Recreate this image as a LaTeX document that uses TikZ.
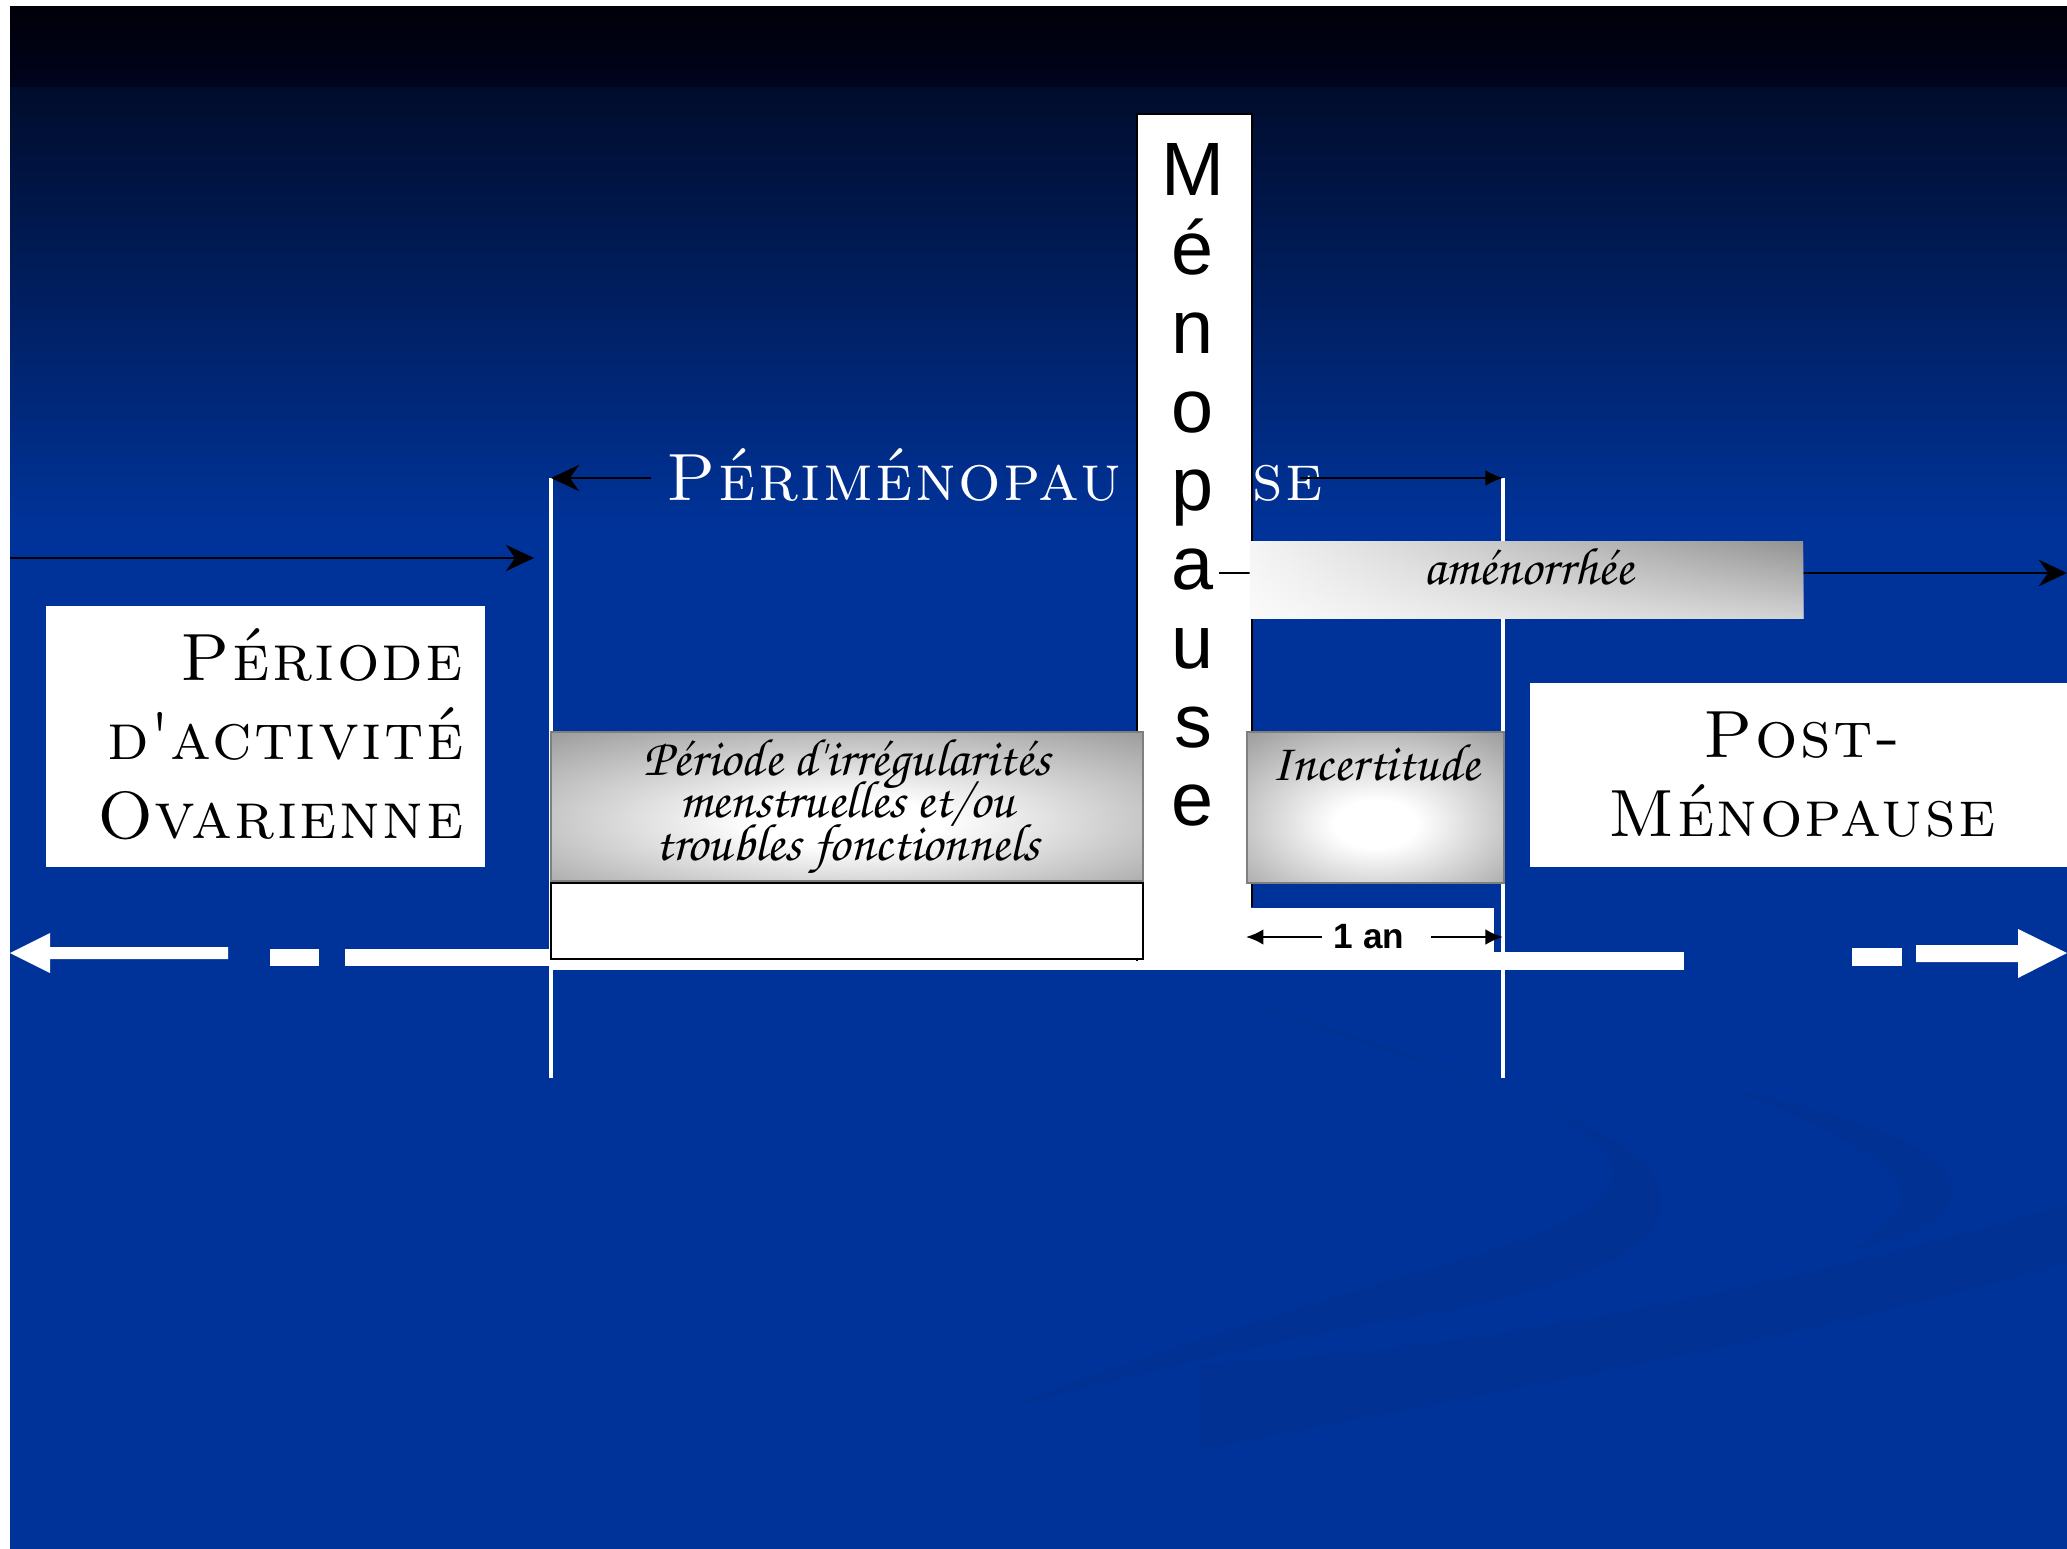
\documentclass[tikz,border=0pt]{standalone}
\usepackage{fontspec}
\newfontfamily\arialfont{Liberation Sans}
\newfontfamily\corsivafont{texgyrechorus-mediumitalic.otf}
\newfontfamily\copperfont{lmromancaps10-regular.otf}[LetterSpace=3.5]
\usetikzlibrary{arrows.meta, calc, positioning, fadings}
\definecolor{slideBlue}{HTML}{003399}
\definecolor{slideNight}{HTML}{000008}
\definecolor{slideNightLow}{HTML}{00041E}
\definecolor{slideDusk}{HTML}{000C2C}
\definecolor{boxGray}{HTML}{7F7F7F}
\pgfdeclareradialshading{bevel}{\pgfpoint{0bp}{-6bp}}{color(0bp)=(white); color(8bp)=(white); color(47bp)=(boxGray); color(100bp)=(boxGray)}
\tikzset{
  plainbox/.style={fill=white, inner sep=0pt},
  bevelbox/.style={shade, shading=bevel, draw=boxGray, line width=0.6pt, inner sep=0pt},
  capslabel/.style={font={\copperfont\fontsize{19}{22.5}\selectfont}, inner sep=0pt},
  scriptlabel/.style={font={\fontsize{15}{12}\selectfont\corsivafont\lineskiplimit=-\maxdimen}, inner sep=0pt},
  menoletter/.style={font={\arialfont\fontsize{21.5}{22.4}\selectfont}, inner sep=0pt},
  boundline/.style={white, line width=1.2pt},
  stealthline/.style={line width=0.7pt, -{Stealth[length=8pt, width=7.5pt]}},
  latexline/.style={line width=0.6pt, -{Latex[length=5pt, width=4.5pt]}},
  swoosh/.style={fill=black, opacity=0.04},
}

\begin{document}
\begin{tikzpicture}[x=0.01cm, y=-0.01cm]
  \useasboundingbox (0,0) rectangle (2067,1549);

  \fill[white] (0,0) rectangle (2067,1549);
  \shade[top color=slideNight, bottom color=slideNightLow] (10,7) rectangle (2067,89);
  \shade[top color=slideDusk, bottom color=slideBlue] (10,88) rectangle (2067,527);
  \fill[slideBlue] (10,526) rectangle (2067,1549);

  \fill[swoosh] (1190,985) .. controls (1400,1060) and (1600,1110) .. (1650,1170) .. controls (1700,1240) and (1580,1290) .. (1405,1318) .. controls (1300,1335) and (1150,1370) .. (1000,1410) .. controls (1150,1350) and (1300,1310) .. (1405,1275) .. controls (1560,1235) and (1640,1195) .. (1605,1150) .. controls (1560,1100) and (1400,1050) .. (1190,985) -- cycle;
  \fill[swoosh] (1725,1088) .. controls (1880,1120) and (1965,1160) .. (1952,1195) .. controls (1945,1225) and (1900,1240) .. (1852,1250) .. controls (1890,1225) and (1910,1205) .. (1899,1185) .. controls (1885,1160) and (1830,1125) .. (1725,1088) -- cycle;
  \fill[swoosh] (1200,1364) .. controls (1500,1350) and (1800,1280) .. (2067,1205) -- (2067,1263) .. controls (1800,1340) and (1500,1390) .. (1200,1450) -- cycle;

  % time axis
  \fill[white] (10,953) -- (50,933) -- (50,947) -- (228,947) -- (228,959) -- (50,959) -- (50,973) -- cycle;
  \fill[white] (270,949) rectangle (319,966);
  \fill[white] (345,949) rectangle (552,966);
  \fill[white] (551,952) rectangle (1684,970);
  \fill[white] (1852,948) rectangle (1902,966);
  \fill[white] (2067,953) -- (2018,929) -- (2018,945) -- (1916,945) -- (1916,962) -- (2018,962) -- (2018,978) -- cycle;

  \coordinate (periTopL) at (551,478);
  \coordinate (periBotL) at (551,1078);
  \coordinate (periTopR) at (1503,478);
  \coordinate (periBotR) at (1503,1078);
  \draw[boundline] (periTopL) -- (periBotL);
  \draw[boundline] (periTopR) -- (periBotR);

  \coordinate (actStart) at (10,558);
  \coordinate (actEnd) at (534,558);
  \draw[stealthline] (actStart) -- (actEnd);

  \node[plainbox, minimum width=4.39cm, minimum height=2.61cm] (ovaire) at (265.5,736.5) {};
  \node[capslabel, align=right, anchor=east] (ovaireTxt) at (464,734) {Période\\d\textquotesingle activité\\Ovarienne};

  \node[plainbox, minimum width=5.37cm, minimum height=1.84cm] (post) at (1798.5,775) {};
  \node[capslabel, align=center] (postTxt) at (1802,775) {Post-\\Ménopause};

  \node[capslabel, white, inner xsep=0.15cm, anchor=base west] (periTxt) at (651,501) {Périménopau};
  \node[capslabel, white, anchor=base west] (periEnd) at (1252,501) {se};
  \draw[stealthline] (periTxt.west |- periTopL) -- (periTopL);
  \coordinate (periArrow) at (1300,478);
  \draw[latexline] (periArrow) -- (periTopR);

  % menopause column
  \node[plainbox, minimum width=1.13cm, minimum height=8.45cm] (meno) at (1194.5,537.5) {};
  \node[plainbox, minimum width=2.45cm, minimum height=0.54cm] (oneanBox) at (1371.5,935) {};
  \draw[line width=0.6pt] (meno.south west) |- (meno.north east) -- (meno.north east |- oneanBox.north);
  \node[menoletter, align=center, anchor=north] (menoTxt) at (1193,143) {M\\é\\n\\o\\p\\a\\u\\s\\e};
  \coordinate (amenStart) at (1219,573);
  \coordinate (amenEnd) at (2067,573);
  \draw[stealthline] (amenStart) -- (amenEnd);

  \node[bevelbox, scriptlabel, align=center, minimum width=5.92cm, minimum height=1.49cm] (irreg) at (847,806.5) {Période d'irrégularités\\menstruelles et/ou\\troubles fonctionnels};
  \node[draw, fill=white, line width=0.6pt, minimum width=5.92cm, minimum height=0.76cm] (irregLow) at (847,921) {};

  \node[bevelbox, minimum width=2.57cm, minimum height=1.51cm] (incert) at (1375.5,807.5) {};
  \node[scriptlabel, below=0.13cm of incert.north] (incertTxt) {Incertitude};

  \node[left color=white!96!black, right color=boxGray!85, minimum width=5.53cm, minimum height=0.76cm] (amen) at (1526.5,580) {};
  \fill[white, path fading=north, fill opacity=0.6] (amen.south west) rectangle (amen.north east);
  \node[scriptlabel] (amenTxt) at ($(amen.center)+(2,-13)$) {aménorrhée};

  \node[font={\arialfont\bfseries\fontsize{10}{12}\selectfont}, inner xsep=0.11cm, inner ysep=0pt] (onean) at (1369,937) {1 an};
  \draw[latexline, line width=0.8pt] (onean.west) -- (onean.west -| incert.west);
  \draw[latexline, line width=0.8pt] ($(onean.east)+(15,0)$) -- (onean.east -| periTopR);

\end{tikzpicture}
\end{document}
